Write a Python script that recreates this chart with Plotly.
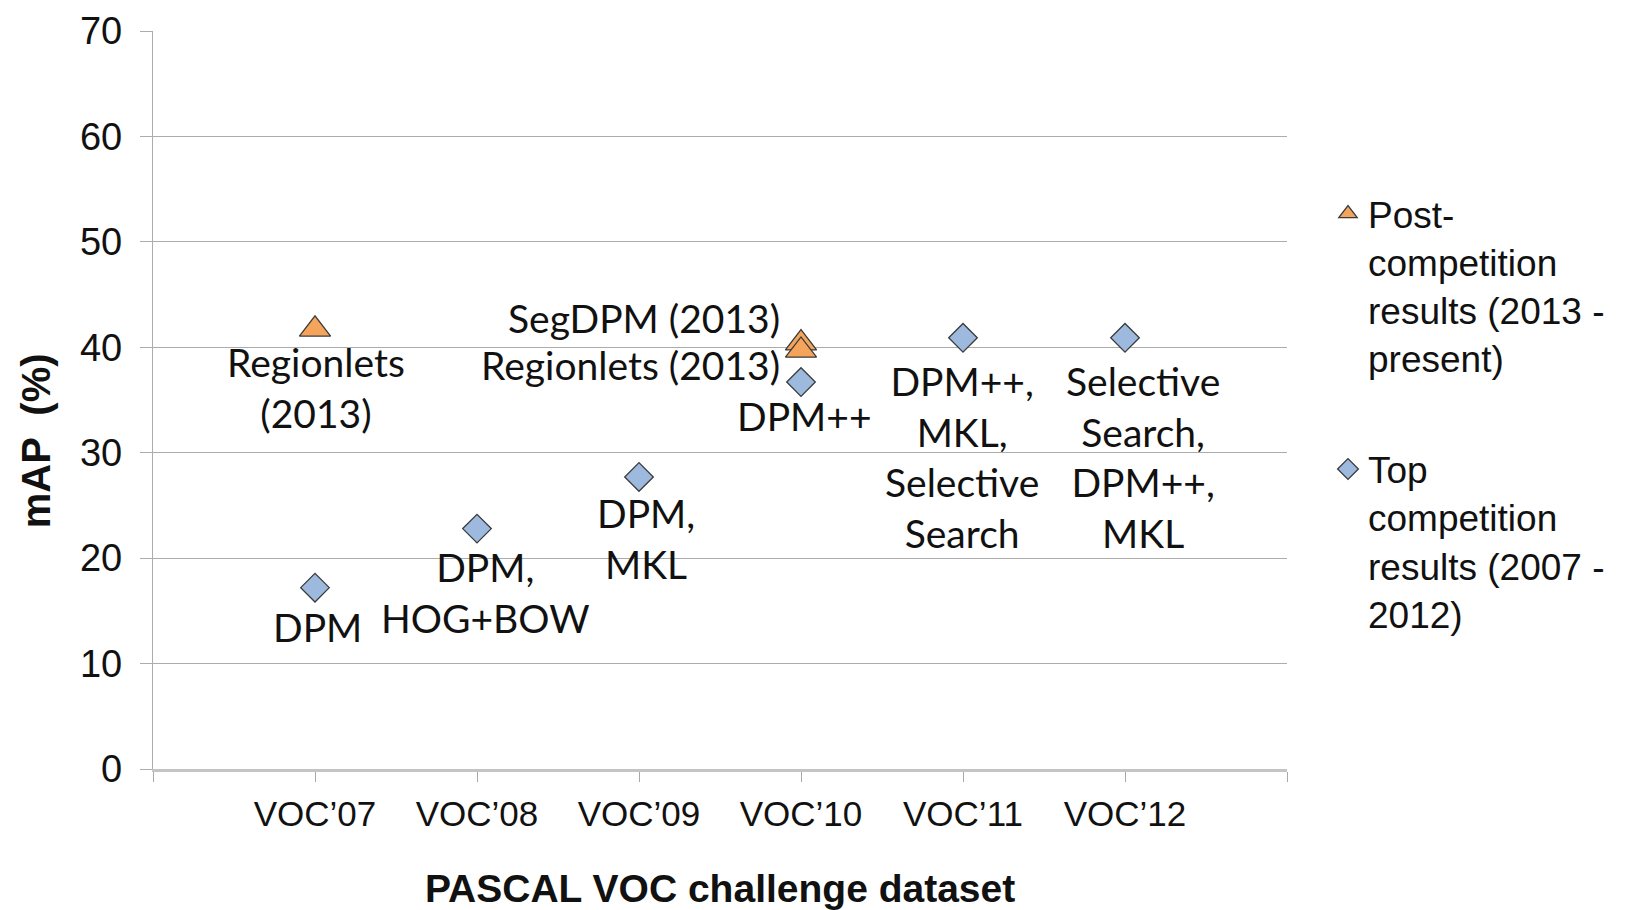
import plotly.graph_objects as go

# ---- data ----
categories = ["VOC’07", "VOC’08", "VOC’09", "VOC’10", "VOC’11", "VOC’12"]
cat_index = [1, 2, 3, 4, 5, 6]

top_values = [17.2, 22.8, 27.7, 36.7, 40.9, 40.9]
top_labels = ["DPM", "DPM,<br>HOG+BOW", "DPM,<br>MKL", "DPM++",
              "DPM++,<br>MKL,<br>Selective<br>Search",
              "Selective<br>Search,<br>DPM++,<br>MKL"]

post_cats = ["VOC’07", "VOC’10", "VOC’10"]
post_values = [41.7, 40.4, 39.7]
post_labels = ["Regionlets<br>(2013)", "SegDPM (2013)", "Regionlets (2013)"]

y_ticks = [0, 10, 20, 30, 40, 50, 60, 70]

series_names = ["Post-<br>competition<br>results (2013 -<br>present)",
                "Top<br>competition<br>results (2007 -<br>2012)"]

# ---- label placement (style) ----
top_label_shift = [(2, -39), (8, -64), (7, -62), (3, -34), (-1, -119), (18, -119)]
post_label_style = [("center", 1, -58), ("right", -19, 25), ("right", -19, -15)]

pos = dict(zip(categories, cat_index))
top_x = [pos[c] for c in categories]
post_x = [pos[c] for c in post_cats]

fig = go.Figure()
fig.add_trace(go.Scatter(
    x=post_x, y=post_values, mode="markers", name=series_names[0],
    legendgroup="post",
    marker=dict(symbol="triangle-up", size=27, color="#F5A45B",
                line=dict(color="#3A3A3A", width=1.3)),
    hoverinfo="skip"))
fig.add_trace(go.Scatter(
    x=top_x, y=top_values, mode="markers", name=series_names[1],
    legendgroup="top",
    marker=dict(symbol="diamond", size=22, color="#9DB9DE",
                line=dict(color="#3A3A3A", width=1.3)),
    hoverinfo="skip"))

label_font = dict(family="Lato, 'Source Sans Pro', 'Noto Sans', sans-serif", size=39, color="#111111")
for x, y, t, (dx, dy) in zip(top_x, top_values, top_labels, top_label_shift):
    fig.add_annotation(x=x, y=y, text=t, showarrow=False, xanchor="center",
                       yanchor="middle", xshift=dx, yshift=dy, font=label_font)
for x, y, t, (anc, dx, dy) in zip(post_x, post_values, post_labels, post_label_style):
    fig.add_annotation(x=x, y=y, text=t, showarrow=False, xanchor=anc,
                       yanchor="middle", xshift=dx, yshift=dy, font=label_font)

# axis titles
fig.add_annotation(x=0.5, y=0, xref="paper", yref="paper", yanchor="middle",
                   yshift=-119, text="<b>PASCAL VOC challenge dataset</b>",
                   showarrow=False,
                   font=dict(family="'Liberation Sans', Arial, sans-serif", size=39, color="#111111"))
fig.add_annotation(x=0, y=0.444, xref="paper", yref="paper", xanchor="center",
                   yanchor="middle", xshift=-117, textangle=-90,
                   text="<b>mAP  (%)</b>", showarrow=False,
                   font=dict(family="'Liberation Sans', Arial, sans-serif", size=40, color="#111111"))

fig.update_layout(
    width=1630, height=910,
    margin=dict(l=153, r=343, t=31, b=141, autoexpand=False),
    paper_bgcolor="white", plot_bgcolor="white",
    showlegend=True,
    legend=dict(x=1328 / 1630, y=1 - 183 / 910, xref="container", yref="container",
                xanchor="left", yanchor="top", valign="top",
                traceorder="grouped", tracegroupgap=60, maxheight=800,
                font=dict(family="'Liberation Sans', Arial, sans-serif", size=37, color="#111111"),
                bgcolor="rgba(0,0,0,0)"),
    hovermode=False,
)

fig.update_xaxes(
    range=[0, 7], tickmode="array", automargin=False,
    tickvals=[0] + cat_index + [7], ticktext=[""] + categories + [""],
    showgrid=False, zeroline=False,
    showline=True, linecolor="#C4C4C4", linewidth=3,
    ticks="outside", ticklen=10, tickcolor="#A8A8A8", tickwidth=1.3,
    ticklabelstandoff=2,
    tickfont=dict(family="'Liberation Sans', Arial, sans-serif",
                  size=35, color="#111111"),
)
fig.update_yaxes(
    range=[0, 70], tickmode="array", tickvals=y_ticks, automargin=False,
    showgrid=True, gridcolor="#ACACAC", gridwidth=1.3,
    zeroline=False,
    showline=True, linecolor="#ACACAC", linewidth=1.3,
    ticks="outside", ticklen=12, tickcolor="#ACACAC", tickwidth=1.3,
    ticklabelstandoff=10,
    tickfont=dict(family="'Liberation Sans', Arial, sans-serif", size=38, color="#111111"),
)

fig.write_html("out.html", config={"displayModeBar": False},
               post_script="document.body.style.margin='0';document.body.style.padding='0';")
